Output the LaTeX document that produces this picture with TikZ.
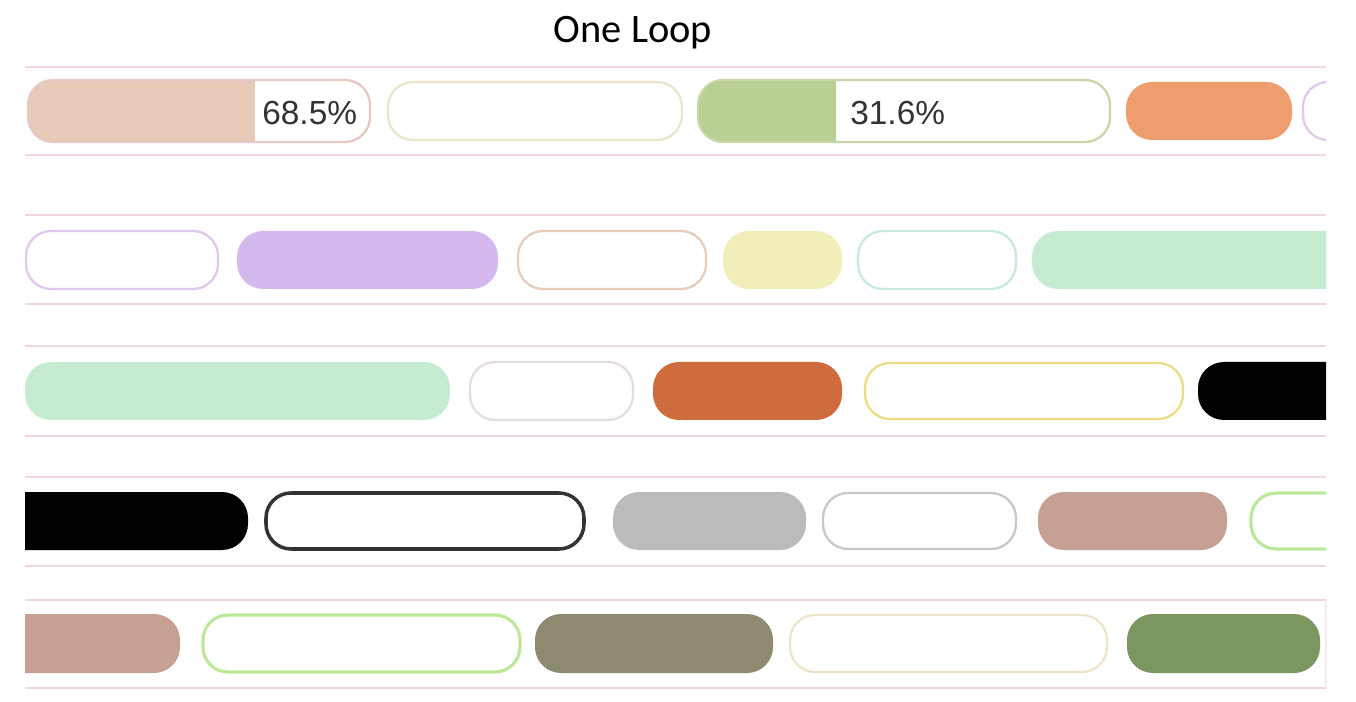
\documentclass[tikz,border=0pt]{standalone}
\usepackage{fontspec}
\setmainfont{Liberation Sans}
\newfontfamily\titlefont{Carlito}
\usepackage{xcolor}
\usepackage{tikz}

\definecolor{sepPink}{HTML}{EFD6E2}
\definecolor{pctGray}{HTML}{333333}
\definecolor{peachFill}{HTML}{E8CAB8}
\definecolor{peachLine}{HTML}{E6C8C4}
\definecolor{creamLine}{HTML}{EAE6CC}
\definecolor{sageFill}{HTML}{B9CF94}
\definecolor{sageLine}{HTML}{C8D6A8}
\definecolor{orangeFill}{HTML}{EE9E6E}
\definecolor{lilacLine}{HTML}{E2C8EC}
\definecolor{lilacFill}{HTML}{D4B8EE}
\definecolor{apricotLine}{HTML}{E8CCBC}
\definecolor{lemonFill}{HTML}{F1EEBA}
\definecolor{aquaLine}{HTML}{C8E8E2}
\definecolor{mintFill}{HTML}{C5ECD0}
\definecolor{ashLine}{HTML}{E6DEDE}
\definecolor{rustFill}{HTML}{CF6C3E}
\definecolor{goldLine}{HTML}{EEDC80}
\definecolor{inkLine}{HTML}{333333}
\definecolor{greyFill}{HTML}{BBBBBB}
\definecolor{greyLine}{HTML}{C8C8C8}
\definecolor{cocoaFill}{HTML}{C6A092}
\definecolor{limeLine}{HTML}{BCE89A}
\definecolor{oliveFill}{HTML}{8E8A70}
\definecolor{sandLine}{HTML}{EEE4C8}
\definecolor{mossFill}{HTML}{7C9660}

\begin{document}
\begin{tikzpicture}[
        x=0.02cm, y=-0.02cm,
        pillfill/.style={rounded corners=0.52cm},
        pillline/.style={line width=1.3pt, rounded corners=0.5cm},
        sepline/.style={draw=sepPink, line width=1.2pt},
        pct/.style={font=\fontsize{19}{22}\selectfont, text=pctGray, anchor=base west, inner sep=0pt}
    ]
    \useasboundingbox[fill=white] (0,0) rectangle (1356,702);

    % title
    \node[font=\titlefont\fontsize{23}{26}\selectfont, anchor=base, inner sep=0pt] (title) at (633,43) {One Loop};

    % row separators
    \foreach \top/\bot in {67/155, 215/304, 346/436, 477/566, 600/688}
        \draw[sepline] (25,\top) -- (1326,\top) (25,\bot) -- (1326,\bot);
    \draw[sepline, draw=sepPink!50, line width=0.6pt] (1326,600) -- (1326,688);

    \begin{scope}
    \clip (25,0) rectangle (1326,702);

    % row 1
    \begin{scope}
        \clip[pillfill] (28,80) rectangle (370,142);
        \fill[peachFill] (28,80) rectangle (255,142);
    \end{scope}
    \draw[pillline, draw=peachLine] (28,80) rectangle (370,142);
    \node[pct] (pctA) at (262,125) {68.5\%};
    \draw[pillline, draw=creamLine] (388,82) rectangle (682,140);
    \begin{scope}
        \clip[pillfill] (698,80) rectangle (1110,142);
        \fill[sageFill] (698,80) rectangle (836,142);
    \end{scope}
    \draw[pillline, draw=sageLine] (698,80) rectangle (1110,142);
    \node[pct] (pctB) at (850,125) {31.6\%};
    \fill[pillfill, orangeFill] (1126,82) rectangle (1292,140);
    \draw[pillline, draw=lilacLine] (1303,82) rectangle (1420,140);

    % row 2
    \draw[pillline, draw=lilacLine] (26,231) rectangle (218,289);
    \fill[pillfill, lilacFill] (237,231) rectangle (498,289);
    \draw[pillline, draw=apricotLine] (518,231) rectangle (706,289);
    \fill[pillfill, lemonFill] (723,231) rectangle (842,289);
    \draw[pillline, draw=aquaLine] (858,231) rectangle (1016,289);
    \fill[pillfill, mintFill] (1032,231) rectangle (1420,289);

    % row 3
    \fill[pillfill, mintFill] (25,362) rectangle (450,420);
    \draw[pillline, draw=ashLine] (470,362) rectangle (633,420);
    \fill[pillfill, rustFill] (653,362) rectangle (842,420);
    \draw[pillline, draw=goldLine] (865,363) rectangle (1183,419);
    \fill[pillfill, black] (1198,362) rectangle (1420,420);

    % row 4
    \fill[pillfill, black] (-80,492) rectangle (248,550);
    \draw[pillline, draw=inkLine, line width=2pt] (266,493) rectangle (584,549);
    \fill[pillfill, greyFill] (613,492) rectangle (806,550);
    \draw[pillline, draw=greyLine] (823,493) rectangle (1016,549);
    \fill[pillfill, cocoaFill] (1038,492) rectangle (1227,550);
    \draw[pillline, draw=limeLine, line width=1.8pt] (1251,493) rectangle (1420,549);

    % row 5
    \fill[pillfill, cocoaFill] (-80,614) rectangle (180,673);
    \draw[pillline, draw=limeLine, line width=1.8pt] (203,615) rectangle (520,672);
    \fill[pillfill, oliveFill] (535,614) rectangle (773,673);
    \draw[pillline, draw=sandLine] (790,615) rectangle (1107,672);
    \fill[pillfill, mossFill] (1127,614) rectangle (1320,673);
    \end{scope}

\end{tikzpicture}
\end{document}
